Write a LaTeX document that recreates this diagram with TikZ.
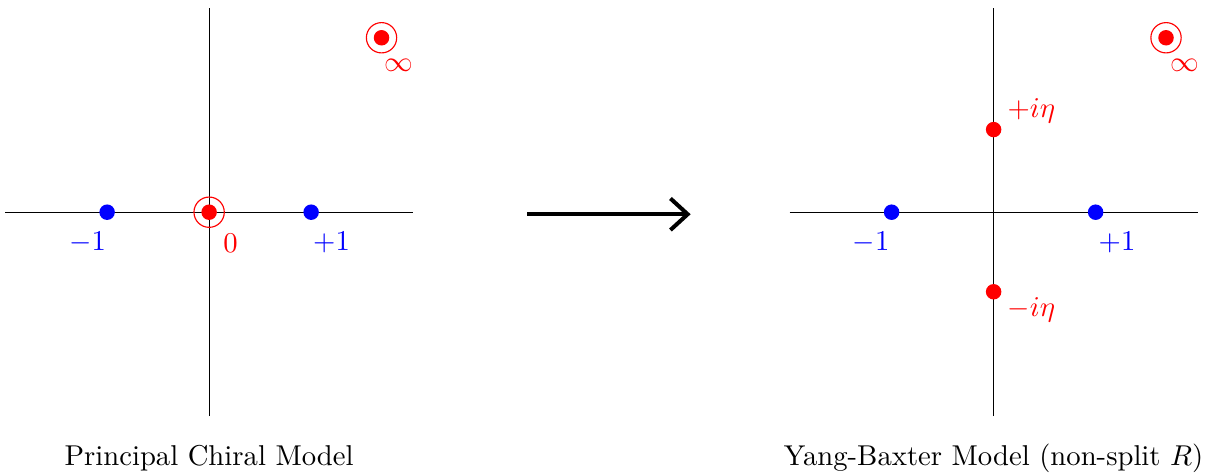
\documentclass[tikz,border=0pt]{standalone}
\usetikzlibrary{arrows.meta}
\begin{document}
\begin{tikzpicture}[x=1.25cm, y=1.25cm]
\tikzset{ >={Straight Barb[length=6pt, width=11pt]},
  pole/.style={fill=red, circle, inner sep=0pt, minimum size=5.4pt},
  zero/.style={fill=blue, circle, inner sep=0pt, minimum size=5.4pt},
  ring/.style={draw=red, circle, inner sep=0pt, minimum size=10.4mm/2.8},
}
%\draw [lightgray, dashed](-2,-2) grid (10,2);
\useasboundingbox (-2.05,-2.55) rectangle (9.87,2.08);

% left plane
\coordinate (LW) at (-2,0);
\coordinate (LE) at (2,0);
\coordinate (LS) at (0,-2);
\coordinate (LN) at (0,2);
\draw (LW) -- (LE);
\draw (LS) -- (LN);

\node [zero] (Lm) at (-1,0) {};
\node [zero] (Lp) at (1,0) {};
\node [ring] (Lr0) at (0,0) {};
\node [pole] (L0) at (0,0) {};
\node [ring] (Lri) at (1.69,1.71) {};
\node [pole] (Li) at (1.69,1.71) {};

\node [blue] (LmL) at (-1.19,-0.30) {$-1$};
\node [blue] (LpL) at (1.20,-0.30) {$+1$};
\node [red]  (L0L) at (0.21,-0.30) {$0$};
\node [red]  (LiL) at (1.86,1.44) {$\infty$};

\node (LT) at (0,-2.41) {Principal Chiral Model};

% deformation
\coordinate (AS) at (3.12,-0.02);
\coordinate (AE) at (4.72,-0.02);
\draw [->, line width=1.4pt] (AS) -- (AE);

% right plane
\coordinate (RW) at (5.69,0);
\coordinate (RE) at (9.69,0);
\coordinate (RS) at (7.69,-2);
\coordinate (RN) at (7.69,2);
\draw (RW) -- (RE);
\draw (RS) -- (RN);

\node [zero] (Rm) at (6.69,0) {};
\node [zero] (Rp) at (8.69,0) {};
\node [pole] (Ru) at (7.69,0.81) {};
\node [pole] (Rd) at (7.69,-0.78) {};
\node [ring] (Rri) at (9.38,1.71) {};
\node [pole] (Ri) at (9.38,1.71) {};

\node [blue] (RmL) at (6.49,-0.30) {$-1$};
\node [blue] (RpL) at (8.90,-0.30) {$+1$};
\node [red]  (RuL) at (8.06,0.99) {$+i\eta$};
\node [red]  (RdL) at (8.06,-0.96) {$-i\eta$};
\node [red]  (RiL) at (9.56,1.44) {$\infty$};

\node (RT) at (7.69,-2.41) {Yang-Baxter Model (non-split $R$)};

\end{tikzpicture}
\end{document}
